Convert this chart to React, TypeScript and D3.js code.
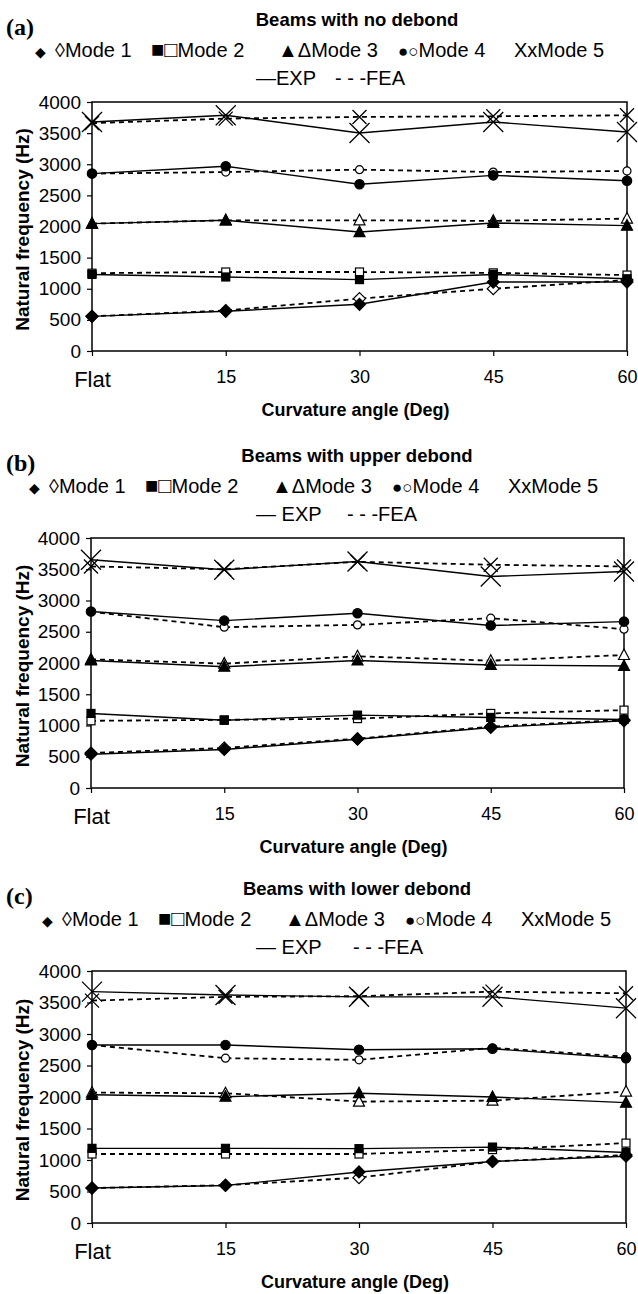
import React, { useEffect, useRef } from 'react';
import * as d3 from 'd3';

const categories = ["Flat", "15", "30", "45", "60"];
const yTicks = [0, 500, 1000, 1500, 2000, 2500, 3000, 3500, 4000];

// rows = Mode 1..5, columns = categories
const noDebondExp = [
    [557, 638, 750, 1108, 1108],
    [1230, 1189, 1147, 1230, 1160],
    [2046, 2100, 1911, 2057, 2014],
    [2850, 2967, 2678, 2822, 2734],
    [3679, 3786, 3502, 3679, 3518]
];
const noDebondFea = [
    [557, 650, 842, 1000, 1140],
    [1250, 1269, 1269, 1255, 1220],
    [2046, 2100, 2100, 2090, 2127],
    [2850, 2875, 2913, 2875, 2892],
    [3660, 3733, 3760, 3770, 3786]
];
const upperExp = [
    [540, 616, 781, 969, 1075],
    [1193, 1083, 1166, 1129, 1097],
    [2040, 1941, 2040, 1968, 1952],
    [2823, 2678, 2797, 2600, 2662],
    [3652, 3492, 3625, 3384, 3465]
];
const upperFea = [
    [560, 640, 790, 983, 1090],
    [1075, 1090, 1110, 1193, 1246],
    [2059, 1990, 2107, 2037, 2128],
    [2820, 2573, 2610, 2717, 2541],
    [3545, 3500, 3620, 3572, 3545]
];
const lowerExp = [
    [555, 595, 810, 976, 1060],
    [1185, 1185, 1180, 1205, 1120],
    [2035, 2005, 2060, 2000, 1910],
    [2826, 2826, 2750, 2766, 2616],
    [3672, 3619, 3590, 3590, 3410]
];
const lowerFea = [
    [555, 600, 720, 976, 1080],
    [1095, 1095, 1095, 1165, 1268],
    [2070, 2060, 1927, 1942, 2086],
    [2826, 2616, 2590, 2780, 2640],
    [3530, 3590, 3600, 3672, 3646]
];

// legend pieces: symbol(s) + label
const legendItems = [
    { sym: "\u25C6", symSize: 14, label: "", dx: 0 },
    { sym: "\u25CA", symSize: 20, label: "Mode 1", dx: 20 },
    { sym: "\u25A0\u25A1", symSize: 22, label: "Mode 2", dx: 116 },
    { sym: "\u25B2\u0394", symSize: 20, label: "Mode 3", dx: 243 },
    { sym: "\u25CF\u25CB", symSize: 17, label: "Mode 4", dx: 363 },
    { sym: "Xx", symSize: 20, label: "Mode 5", dx: 479 }
];

const FONT = "'Liberation Sans', Arial, Helvetica, sans-serif";

const panels = [
    { label: "(a)", title: "Beams with no debond", exp: "\u2014EXP", expData: noDebondExp, feaData: noDebondFea,
      top: 102, bottom: 351, left: 92, right: 627, legendStart: 35, feaEnd: 405 },
    { label: "(b)", title: "Beams with upper debond", exp: "\u2014 EXP", expData: upperExp, feaData: upperFea,
      top: 538, bottom: 788, left: 91, right: 624, legendStart: 29, feaEnd: 417 },
    { label: "(c)", title: "Beams with lower debond", exp: "\u2014 EXP", expData: lowerExp, feaData: lowerFea,
      top: 971, bottom: 1223, left: 92, right: 626, legendStart: 42, feaEnd: 423 }
];

const drawMarker = (g, mode, filled, cx, cy) => {
    const fill = filled ? "#000" : "#fff";
    const m = g.append("g").attr("transform", `translate(${cx},${cy})`);
    if (mode === 0) {
        m.append("path").attr("d", "M0,-6L6,0L0,6L-6,0Z")
            .attr("fill", fill).attr("stroke", "#000").attr("stroke-width", 1.2);
    } else if (mode === 1) {
        m.append("rect").attr("x", -4).attr("y", -4).attr("width", 8).attr("height", 8)
            .attr("fill", fill).attr("stroke", "#000").attr("stroke-width", 1.2);
    } else if (mode === 2) {
        m.append("path").attr("d", "M0,-6L5.5,4.5L-5.5,4.5Z")
            .attr("fill", fill).attr("stroke", "#000").attr("stroke-width", 1.2);
    } else if (mode === 3) {
        m.append("circle").attr("r", filled ? 4.7 : 4)
            .attr("fill", fill).attr("stroke", "#000").attr("stroke-width", 1.2);
    } else {
        const s = filled ? 10 : 7;
        m.append("path").attr("d", `M${-s},${-s}L${s},${s}M${-s},${s}L${s},${-s}`)
            .attr("fill", "none").attr("stroke", "#000").attr("stroke-width", 1.3);
    }
};

const drawPanel = (svg, p) => {
    const g = svg.append("g");

    const x = d3.scalePoint().domain(categories).range([p.left, p.right]);
    const y = d3.scaleLinear().domain([0, 4000]).range([p.bottom, p.top]);

    // y axis
    const ya = g.append("g")
        .attr("transform", `translate(${p.left},0)`)
        .call(d3.axisLeft(y).tickValues(yTicks).tickSize(5).tickSizeOuter(0).tickFormat(d3.format("d")));
    ya.select(".domain").remove();
    ya.selectAll("line").attr("stroke", "#000").attr("stroke-width", 1.2);
    ya.selectAll("text")
        .attr("x", -11)
        .attr("font-size", 19)
        .attr("font-family", FONT)
        .attr("fill", "#000");

    // x axis
    const xa = g.append("g")
        .attr("transform", `translate(0,${p.bottom})`)
        .call(d3.axisBottom(x).tickSize(5).tickSizeOuter(0));
    xa.select(".domain").remove();
    xa.selectAll("line").attr("stroke", "#000").attr("stroke-width", 1.2);
    xa.selectAll("text")
        .attr("dy", 0)
        .attr("y", d => d === "Flat" ? 36 : 32)
        .attr("font-size", d => d === "Flat" ? 22 : 18)
        .attr("font-family", FONT)
        .attr("fill", "#000");

    // plot border
    g.append("rect")
        .attr("x", p.left).attr("y", p.top)
        .attr("width", p.right - p.left).attr("height", p.bottom - p.top)
        .attr("fill", "none").attr("stroke", "#000").attr("stroke-width", 1.5);

    const line = d3.line()
        .x((d, i) => x(categories[i]))
        .y(d => y(d));

    p.feaData.forEach(vals => {
        g.append("path").attr("d", line(vals))
            .attr("fill", "none").attr("stroke", "#000")
            .attr("stroke-width", 1.8).attr("stroke-dasharray", "5,4");
    });
    p.expData.forEach(vals => {
        g.append("path").attr("d", line(vals))
            .attr("fill", "none").attr("stroke", "#000").attr("stroke-width", 1.4);
    });

    p.feaData.forEach((vals, mode) => {
        vals.forEach((v, i) => drawMarker(g, mode, false, x(categories[i]), y(v)));
    });
    p.expData.forEach((vals, mode) => {
        vals.forEach((v, i) => drawMarker(g, mode, true, x(categories[i]), y(v)));
    });

    // axis titles
    g.append("text")
        .attr("x", (p.left + p.right) / 2 - 4)
        .attr("y", p.bottom + 65)
        .attr("text-anchor", "middle")
        .attr("font-family", FONT).attr("font-weight", "bold").attr("font-size", 18)
        .text("Curvature angle (Deg)");

    g.append("text")
        .attr("transform", `translate(22.5,${(p.top + p.bottom) / 2 + 3}) rotate(-90)`)
        .attr("text-anchor", "middle")
        .attr("dominant-baseline", "central")
        .attr("font-family", FONT).attr("font-weight", "bold").attr("font-size", 19)
        .text("Natural frequency (Hz)");

    // panel label and title
    g.append("text")
        .attr("x", 6).attr("y", p.top - 67)
        .attr("font-family", "'Liberation Serif', 'Times New Roman', serif")
        .attr("font-weight", "bold").attr("font-size", 24)
        .text(p.label);

    g.append("text")
        .attr("x", 357).attr("y", p.top - 76)
        .attr("text-anchor", "middle")
        .attr("font-family", FONT).attr("font-weight", "bold").attr("font-size", 18.5)
        .text(p.title);

    // legend
    legendItems.forEach(it => {
        const t = g.append("text")
            .attr("x", p.legendStart + it.dx).attr("y", p.top - 45)
            .attr("font-family", FONT).attr("font-size", 20);
        t.append("tspan").attr("font-size", it.symSize).text(it.sym);
        if (it.label) t.append("tspan").attr("font-size", 20).text(it.label);
    });

    g.append("text")
        .attr("x", 256).attr("y", p.top - 17)
        .attr("font-family", FONT).attr("font-size", 20)
        .style("white-space", "pre")
        .text(p.exp);
    g.append("text")
        .attr("x", p.feaEnd).attr("y", p.top - 17)
        .attr("text-anchor", "end")
        .attr("font-family", FONT).attr("font-size", 20)
        .style("white-space", "pre")
        .text("- - -FEA");
};

const App = () => {
    const ref = useRef(null);

    useEffect(() => {
        const svg = d3.select(ref.current);
        svg.selectAll("*").remove();
        panels.forEach(p => drawPanel(svg, p));
    }, []);

    return (
        <svg
            ref={ref}
            width={638}
            height={1294}
            style={{ position: 'absolute', left: 0, top: 0, background: '#fff' }}
        />
    );
};

export default App;
